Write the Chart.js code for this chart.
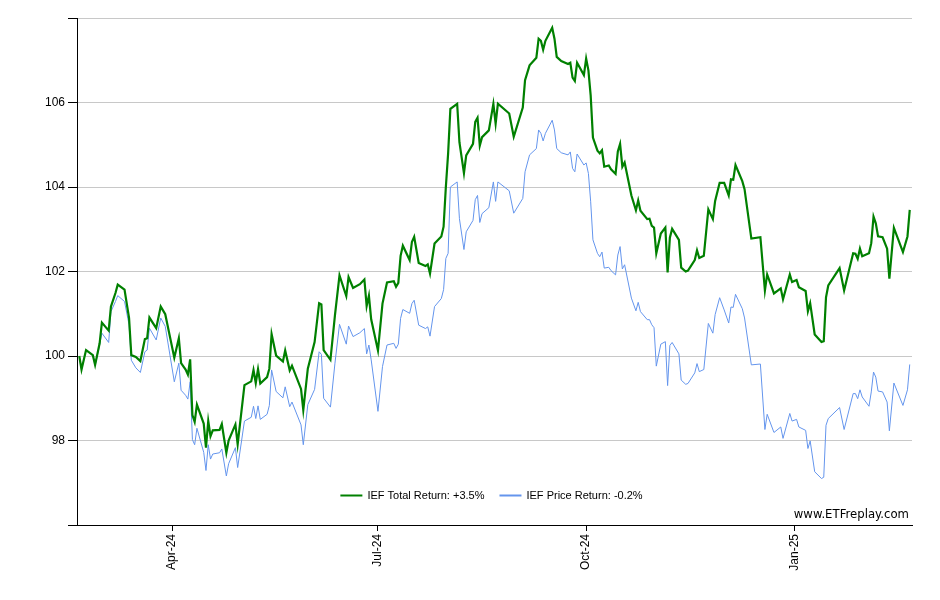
<!DOCTYPE html>
<html>
<head>
<meta charset="utf-8">
<title>IEF Total Return vs Price Return</title>
<script src="https://cdn.jsdelivr.net/npm/chart.js@4/dist/chart.umd.min.js"></script>
<style>
    html, body { margin: 0; padding: 0; background: #ffffff; }
    #chartWrap { width: 940px; height: 600px; position: relative; }
</style>
</head>
<body>
<div id="chartWrap"><canvas id="returnChart"></canvas></div>
<script>
// calendar days since 2024-02-20
const days = [
    0, 1, 3, 6, 7, 9, 10, 13, 14, 16,
    17, 20, 22, 23, 25, 27, 29, 30, 31, 34,
    36, 38, 42, 44, 45, 47, 48, 49, 50, 51,
    52, 55, 56, 57, 58, 59, 62, 63, 65, 66,
    69, 70, 73, 76, 77, 78, 79, 80, 83, 84,
    85, 87, 90, 91, 93, 94, 98, 99, 101, 104,
    106, 107, 108, 111, 113, 115, 118, 119, 121, 124,
    126, 127, 128, 129, 132, 134, 136, 139, 140, 141,
    142, 143, 146, 147, 148, 150, 153, 154, 155, 157,
    160, 161, 162, 163, 164, 167, 168, 170, 171, 174,
    175, 176, 177, 178, 181, 183, 184, 185, 190, 192,
    196, 197, 199, 202, 203, 204, 205, 206, 209, 210,
    211, 213, 216, 217, 218, 219, 220, 223, 224, 225,
    226, 227, 229, 230, 231, 232, 234, 235, 237, 238,
    239, 240, 241, 244, 246, 247, 248, 251, 252, 253,
    254, 255, 257, 259, 260, 261, 262, 265, 266, 268,
    269, 272, 273, 274, 276, 278, 280, 281, 283, 285,
    287, 288, 289, 290, 293, 294, 297, 301, 303, 304,
    307, 310, 311, 314, 315, 317, 318, 321, 322, 323,
    325, 328, 329, 330, 331, 336, 338, 342, 343, 344,
    345, 346, 349, 350, 351, 352, 353, 355, 357, 358,
    360, 364, 366, 367
];

const totalReturn = [
    100.00, 99.68, 100.14, 100.02, 99.79, 100.30, 100.79, 100.60, 101.17, 101.49,
    101.69, 101.57, 100.90, 100.02, 99.98, 99.88, 100.40, 100.42, 100.91, 100.66,
    101.17, 100.99, 99.96, 100.42, 99.83, 99.68, 99.56, 99.92, 98.60, 98.44,
    98.85, 98.40, 97.83, 98.46, 98.10, 98.24, 98.25, 98.39, 97.71, 98.00,
    98.38, 97.91, 99.31, 99.40, 99.67, 99.36, 99.69, 99.35, 99.50, 99.70,
    100.52, 100.01, 99.87, 100.13, 99.66, 99.77, 99.22, 98.72, 99.70, 100.33,
    101.25, 101.22, 100.14, 99.91, 100.97, 101.91, 101.42, 101.87, 101.61, 101.70,
    101.81, 101.18, 101.43, 100.87, 100.13, 101.24, 101.74, 101.77, 101.64, 101.73,
    102.37, 102.61, 102.27, 102.70, 102.82, 102.20, 102.13, 102.17, 101.95, 102.66,
    102.83, 103.06, 104.00, 104.79, 105.85, 105.97, 105.06, 104.33, 104.75, 105.02,
    105.54, 105.64, 104.98, 105.18, 105.34, 105.97, 105.50, 105.97, 105.74, 105.19,
    105.88, 106.53, 106.88, 107.06, 107.51, 107.46, 107.25, 107.46, 107.77, 107.51,
    107.08, 106.98, 106.91, 106.94, 106.59, 106.51, 106.94, 106.65, 107.04, 106.76,
    106.17, 105.17, 104.86, 104.80, 104.87, 104.48, 104.51, 104.42, 104.31, 104.84,
    105.02, 104.48, 104.58, 103.80, 103.45, 103.68, 103.44, 103.24, 103.25, 103.08,
    103.04, 102.43, 102.90, 103.04, 101.98, 102.80, 103.01, 102.75, 102.09, 102.00,
    102.02, 102.27, 102.50, 102.32, 102.37, 103.47, 103.24, 103.67, 104.10, 104.10,
    103.80, 104.18, 104.17, 104.52, 104.14, 103.95, 102.78, 102.81, 101.55, 101.93,
    101.48, 101.60, 101.34, 101.93, 101.75, 101.80, 101.63, 101.54, 101.06, 101.25,
    100.51, 100.33, 100.35, 101.39, 101.67, 102.08, 101.55, 102.43, 102.42, 102.30,
    102.54, 102.36, 102.43, 102.67, 103.30, 103.14, 102.83, 102.81, 102.54, 101.83,
    103.03, 102.46, 102.83, 103.46
];

const priceReturn = [
    100.00, 99.67, 100.14, 100.02, 99.77, 100.26, 100.54, 100.32, 101.05, 101.29,
    101.43, 101.29, 100.74, 99.90, 99.72, 99.61, 100.10, 100.14, 100.66, 100.38,
    100.90, 100.70, 99.39, 99.83, 99.19, 99.07, 98.98, 99.39, 98.02, 97.90,
    98.29, 97.72, 97.29, 97.90, 97.56, 97.68, 97.71, 97.80, 97.16, 97.45,
    97.83, 97.36, 98.46, 98.55, 98.81, 98.52, 98.82, 98.50, 98.62, 98.83,
    99.67, 99.16, 99.01, 99.27, 98.80, 98.91, 98.37, 97.90, 98.85, 99.21,
    100.10, 100.04, 99.00, 98.79, 99.83, 100.75, 100.28, 100.71, 100.46, 100.55,
    100.65, 100.05, 100.26, 99.91, 98.69, 99.75, 100.26, 100.30, 100.18, 100.28,
    100.89, 101.10, 101.01, 101.24, 101.32, 100.73, 100.65, 100.69, 100.47, 101.17,
    101.36, 101.57, 102.31, 102.43, 104.00, 104.12, 103.25, 102.52, 102.94, 103.21,
    103.70, 103.80, 103.16, 103.37, 103.51, 104.12, 103.66, 104.12, 103.91, 103.38,
    103.73, 104.36, 104.76, 104.91, 105.35, 105.27, 105.09, 105.27, 105.58, 105.35,
    104.91, 104.81, 104.76, 104.83, 104.44, 104.36, 104.78, 104.52, 104.57, 104.32,
    103.65, 102.75, 102.43, 102.35, 102.46, 102.08, 102.10, 102.02, 101.92, 102.39,
    102.59, 102.06, 102.16, 101.37, 101.07, 101.27, 101.05, 100.86, 100.86, 100.74,
    100.67, 99.76, 100.28, 100.34, 99.30, 100.25, 100.32, 100.05, 99.43, 99.33,
    99.35, 99.60, 99.82, 99.63, 99.68, 100.77, 100.54, 100.98, 101.38, 101.09,
    100.78, 101.16, 101.15, 101.46, 101.12, 100.90, 99.79, 99.81, 98.26, 98.62,
    98.19, 98.32, 98.05, 98.64, 98.46, 98.50, 98.32, 98.24, 97.81, 97.99,
    97.26, 97.10, 97.13, 98.36, 98.52, 98.78, 98.26, 99.11, 99.11, 98.99,
    99.20, 99.03, 98.81, 99.15, 99.62, 99.50, 99.17, 99.15, 98.91, 98.23,
    99.36, 98.83, 99.20, 99.80
];

const seriesLabels = ['IEF Total Return: +3.5%', 'IEF Price Return: -0.2%'];
const tickDays = [41, 132, 224, 316];
const tickLabels = ['Apr-24', 'Jul-24', 'Oct-24', 'Jan-25'];
const yTicks = [96, 98, 100, 102, 104, 106, 108];

const TICK_FONT = { family: '"Liberation Sans", Arial, sans-serif', size: 12 };

const insideLegend = {
    id: 'insideLegend',
    afterDraw(chart) {
        const { ctx, chartArea } = chart;
        const lineLen = 22;
        const gap = 5;
        const spacing = 15;
        ctx.save();
        ctx.font = '11px "Liberation Sans", Arial, sans-serif';
        const items = chart.data.datasets.map((ds) => ({
            text: ds.label,
            color: ds.borderColor,
            textWidth: ctx.measureText(ds.label).width
        }));
        const total = items.reduce((sum, it) => sum + lineLen + gap + it.textWidth, 0) + spacing * (items.length - 1);
        let x = (chartArea.left + chartArea.right) / 2 - total / 2 - 3;
        const y = chartArea.bottom - 29.5;
        ctx.textBaseline = 'middle';
        items.forEach((it) => {
            ctx.strokeStyle = it.color;
            ctx.lineWidth = 2;
            ctx.beginPath();
            ctx.moveTo(x, y);
            ctx.lineTo(x + lineLen, y);
            ctx.stroke();
            ctx.fillStyle = '#000000';
            ctx.fillText(it.text, x + lineLen + gap, y + 0.5);
            x += lineLen + gap + it.textWidth + spacing;
        });

        // site watermark
        ctx.font = '11.7px "DejaVu Sans", Verdana, sans-serif';
        ctx.textAlign = 'right';
        ctx.fillText('www.ETFreplay.com', chartArea.right - 3, chartArea.bottom - 10);
        ctx.restore();
    }
};

new Chart(document.getElementById('returnChart'), {
    type: 'line',
    data: {
        datasets: [
            {
                label: seriesLabels[0],
                data: days.map((d, i) => ({ x: d, y: totalReturn[i] })),
                borderColor: '#008000',
                borderWidth: 2.2,
                pointRadius: 0,
                tension: 0
            },
            {
                label: seriesLabels[1],
                data: days.map((d, i) => ({ x: d, y: priceReturn[i] })),
                borderColor: '#6495ed',
                borderWidth: 1,
                pointRadius: 0,
                tension: 0
            }
        ]
    },
    plugins: [insideLegend],
    options: {
        responsive: true,
        maintainAspectRatio: false,
        animation: false,
        layout: { padding: { left: 0, top: 18, right: 28, bottom: 0 } },
        plugins: {
            legend: { display: false },
            tooltip: { enabled: false }
        },
        scales: {
            x: {
                type: 'linear',
                min: -1,
                max: 368,
                afterBuildTicks: (scale) => {
                    scale.ticks = tickDays.map((value) => ({ value }));
                },
                afterFit: (scale) => {
                    scale.height = 75;
                },
                ticks: {
                    autoSkip: false,
                    minRotation: 90,
                    maxRotation: 90,
                    padding: 3,
                    color: '#000000',
                    font: TICK_FONT,
                    callback: (value, index) => tickLabels[index]
                },
                grid: {
                    drawOnChartArea: false,
                    tickColor: '#000000',
                    tickLength: 6
                },
                border: { color: '#000000', width: 1 }
            },
            y: {
                min: 96,
                max: 108,
                afterBuildTicks: (scale) => {
                    scale.ticks = yTicks.map((value) => ({ value }));
                },
                afterFit: (scale) => {
                    scale.width = 77;
                },
                ticks: {
                    padding: 3,
                    color: '#000000',
                    font: TICK_FONT,
                    callback: (value) => (value === 96 || value === 108 ? '' : String(value))
                },
                grid: {
                    color: '#c8c8c8',
                    lineWidth: 1,
                    tickColor: '#000000',
                    tickLength: 9
                },
                border: { color: '#000000', width: 1 }
            }
        }
    }
});
</script>
</body>
</html>
